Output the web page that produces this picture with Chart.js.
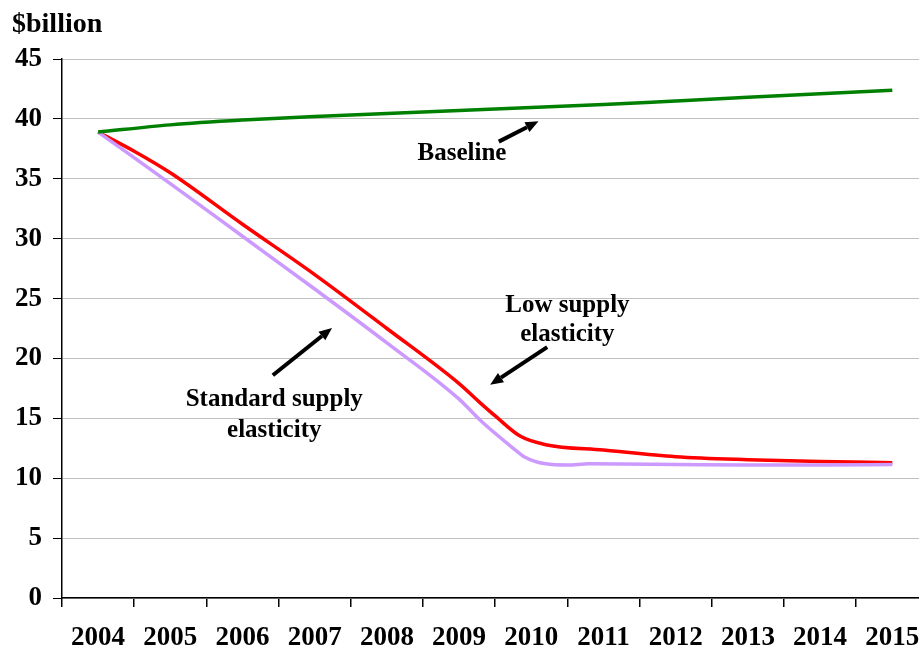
<!DOCTYPE html>
<html>
<head>
<meta charset="utf-8">
<title>$billion</title>
<script src="https://cdn.jsdelivr.net/npm/chart.js@4/dist/chart.umd.min.js"></script>
<style>
  html, body { margin: 0; padding: 0; background: #ffffff; overflow: hidden; }
  #wrap { width: 919px; height: 649px; }
</style>
</head>
<body>
<div id="wrap"><canvas id="chart" width="919" height="649"></canvas></div>
<script>
// Year labels along the bottom axis
const years = [2004, 2005, 2006, 2007, 2008, 2009, 2010, 2011, 2012, 2013, 2014, 2015];

// Baseline series ($billion)
const baselineYears  = [2004, 2005, 2006, 2007, 2008, 2009, 2010, 2011, 2012, 2013, 2014, 2015];
const baselineValues = [38.9, 39.5, 39.9, 40.2, 40.45, 40.7, 40.95, 41.2, 41.5, 41.8, 42.1, 42.4];

// Low supply elasticity scenario
const lowYears  = [2004, 2004.5, 2005, 2006, 2007, 2008, 2009, 2009.3, 2009.5, 2009.85, 2010.2, 2011, 2012, 2013, 2014, 2015];
const lowValues = [38.9, 37.3, 35.5, 31.2, 27.0, 22.5, 17.9, 16.25, 15.2, 13.5, 12.8, 12.35, 11.8, 11.55, 11.4, 11.3];

// Standard supply elasticity scenario
const standardYears  = [2004, 2005, 2006, 2007, 2008, 2009, 2009.3, 2009.75, 2009.9, 2010.2, 2010.5, 2010.8, 2012, 2013, 2014, 2015];
const standardValues = [38.9, 34.6, 30.2, 25.8, 21.3, 16.6, 14.8, 12.5, 11.8, 11.2, 11.1, 11.2, 11.15, 11.1, 11.1, 11.15];

// Y axis range
const yMin = 0, yMax = 45, yStep = 5;

function pairs(xs, ys) { return xs.map((x, i) => ({ x: x, y: ys[i] })); }

const FONT = '"Liberation Serif", "Times New Roman", Times, serif';

// Callout texts with arrows, placed in data coordinates
const callouts = [
  { lines: ['Baseline'], x: 2009.04, baselines: [36.56],
    arrow: { from: [2009.55, 38.1], to: [2010.1, 39.8] } },
  { lines: ['Low supply', 'elasticity'], x: 2010.5, baselines: [23.9, 21.45],
    arrow: { from: [2010.22, 20.95], to: [2009.43, 17.8] } },
  { lines: ['Standard supply', 'elasticity'], x: 2006.44, baselines: [16.05, 13.45],
    arrow: { from: [2006.42, 18.6], to: [2007.24, 22.55] } }
];

function drawArrow(ctx, x1, y1, x2, y2) {
  const ang = Math.atan2(y2 - y1, x2 - x1);
  const headLen = 13, headHalf = 5.5;
  const bx = x2 - headLen * Math.cos(ang), by = y2 - headLen * Math.sin(ang);
  ctx.beginPath();
  ctx.moveTo(x1, y1);
  ctx.lineTo(bx, by);
  ctx.lineWidth = 4;
  ctx.strokeStyle = '#000';
  ctx.stroke();
  ctx.beginPath();
  ctx.moveTo(x2, y2);
  ctx.lineTo(bx + headHalf * Math.sin(ang), by - headHalf * Math.cos(ang));
  ctx.lineTo(bx - headHalf * Math.sin(ang), by + headHalf * Math.cos(ang));
  ctx.closePath();
  ctx.fillStyle = '#000';
  ctx.fill();
}

const calloutPlugin = {
  id: 'callouts',
  afterDatasetsDraw(chart) {
    const ctx = chart.ctx, xs = chart.scales.x, ys = chart.scales.y;
    ctx.save();
    ctx.font = 'bold 25px ' + FONT;
    ctx.fillStyle = '#000';
    ctx.textAlign = 'center';
    ctx.textBaseline = 'alphabetic';
    callouts.forEach(c => {
      const px = xs.getPixelForValue(c.x);
      c.lines.forEach((t, i) => ctx.fillText(t, px, ys.getPixelForValue(c.baselines[i])));
      const a = c.arrow;
      drawArrow(ctx,
        xs.getPixelForValue(a.from[0]), ys.getPixelForValue(a.from[1]),
        xs.getPixelForValue(a.to[0]), ys.getPixelForValue(a.to[1]));
    });
    // unit label above the value axis
    ctx.textAlign = 'left';
    ctx.font = 'bold 28px ' + FONT;
    ctx.fillText('$billion', chart.chartArea.left - 50, chart.chartArea.top - 27);
    ctx.restore();
  }
};

new Chart(document.getElementById('chart'), {
  type: 'line',
  data: {
    datasets: [
      { label: 'Baseline', data: pairs(baselineYears, baselineValues),
        borderColor: '#008000', borderWidth: 3.5 },
      { label: 'Standard supply elasticity', data: pairs(standardYears, standardValues),
        borderColor: '#cc99ff', borderWidth: 3.5 },
      { label: 'Low supply elasticity', data: pairs(lowYears, lowValues),
        borderColor: '#ff0000', borderWidth: 3.5 }
    ]
  },
  options: {
    responsive: false,
    animation: false,
    devicePixelRatio: 1,
    elements: {
      point: { radius: 0, hoverRadius: 0 },
      line: { cubicInterpolationMode: 'monotone', borderCapStyle: 'butt', borderJoinStyle: 'round' }
    },
    layout: { padding: { top: 59, left: 0, right: 0, bottom: 0 } },
    plugins: { legend: { display: false }, tooltip: { enabled: false }, title: { display: false } },
    scales: {
      x: {
        type: 'linear',
        min: years[0] - 0.5,
        max: years[0] - 0.5 + 857 / 72.2,
        border: { display: true, color: '#000', width: 1.5 },
        grid: { offset: true, drawOnChartArea: false, drawTicks: true, tickLength: 9, tickColor: '#000', lineWidth: 1.5 },
        ticks: {
          stepSize: 1, includeBounds: false, autoSkip: false, maxRotation: 0,
          padding: 15, color: '#000',
          font: { family: FONT, size: 27, weight: 'bold' },
          callback: v => years.includes(v) ? String(v) : ''
        },
        afterFit: s => { s.height = 51; s.paddingLeft = 0; s.paddingRight = 0; }
      },
      y: {
        min: yMin, max: yMax,
        border: { display: true, color: '#000', width: 1.5 },
        grid: { color: '#c0c0c0', lineWidth: 1, drawTicks: true, tickLength: 9, tickColor: '#000' },
        ticks: {
          stepSize: yStep, padding: 11, color: '#000',
          font: { family: FONT, size: 27, weight: 'bold' }
        },
        afterFit: s => { s.width = 62; s.paddingTop = 0; s.paddingBottom = 0; }
      }
    }
  },
  plugins: [calloutPlugin]
});
</script>
</body>
</html>
